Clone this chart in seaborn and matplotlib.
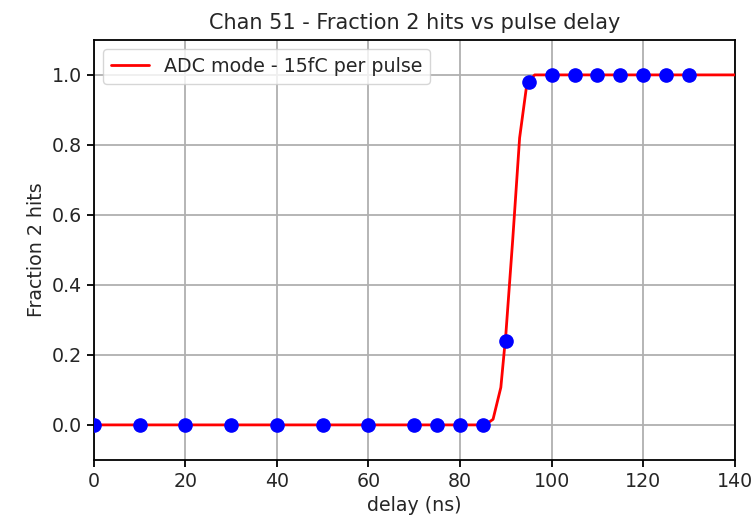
import matplotlib
matplotlib.use("Agg")
import matplotlib.pyplot as plt
import seaborn as sns
import pandas as pd

# Measured points (blue dots)
delay_ns = [0, 10, 20, 30, 40, 50, 60, 70, 75, 80, 85, 90, 95, 100, 105, 110, 115, 120, 125, 130]
fraction = [0, 0, 0, 0, 0, 0, 0, 0, 0, 0, 0, 0.24, 0.98, 1.0, 1.0, 1.0, 1.0, 1.0, 1.0, 1.0]

# Fit curve (red line)
fit_x = [0, 85.5, 87.2, 88.9, 90.0, 91.5, 93.0, 94.6, 96.3, 140]
fit_y = [0, 0.0, 0.016, 0.107, 0.26, 0.53, 0.82, 0.976, 1.0, 1.0]

title = "Chan 51 - Fraction 2 hits vs pulse delay"
xlabel = "delay (ns)"
ylabel = "Fraction 2 hits"
legend_label = "ADC mode - 15fC per pulse"

sns.set_theme(style="ticks")
plt.rcParams["font.family"] = ["DejaVu Sans"]

pts = pd.DataFrame({"delay": delay_ns, "frac": fraction})
fit = pd.DataFrame({"delay": fit_x, "frac": fit_y})

fig = plt.figure(figsize=(7.56, 5.25), dpi=100)
ax = fig.add_axes([0.124, 0.124, 0.848, 0.8])

sns.lineplot(data=fit, x="delay", y="frac", ax=ax, color="red", linewidth=2,
             label=legend_label, zorder=3, estimator=None, sort=False)
ax.plot(pts["delay"], pts["frac"], linestyle="none", marker="o", color="blue",
        markersize=9.5, zorder=4)

ax.set_xlim(0, 140)
ax.set_ylim(-0.1, 1.1)
ax.set_xticks([0, 20, 40, 60, 80, 100, 120, 140])
ax.set_yticks([0.0, 0.2, 0.4, 0.6, 0.8, 1.0])
ax.set_yticklabels(["0.0", "0.2", "0.4", "0.6", "0.8", "1.0"])
ax.grid(True, color="#b0b0b0", linewidth=1.3)
ax.set_axisbelow(True)

for s in ax.spines.values():
    s.set_color("black")
    s.set_linewidth(1.3)
ax.tick_params(axis="both", labelsize=13.7, labelcolor="#262626", color="black",
               length=5, width=1.3, direction="out")

ax.set_title(title, fontsize=15, color="#262626", pad=8)
ax.set_xlabel(xlabel, fontsize=13.7, color="#262626")
ax.set_ylabel(ylabel, fontsize=13.7, color="#262626")

leg = ax.legend(loc="upper left", fontsize=13.7, frameon=True, fancybox=True,
                framealpha=0.8, edgecolor="#cccccc", handlelength=2.0)

fig.savefig("out.png", dpi=100)
